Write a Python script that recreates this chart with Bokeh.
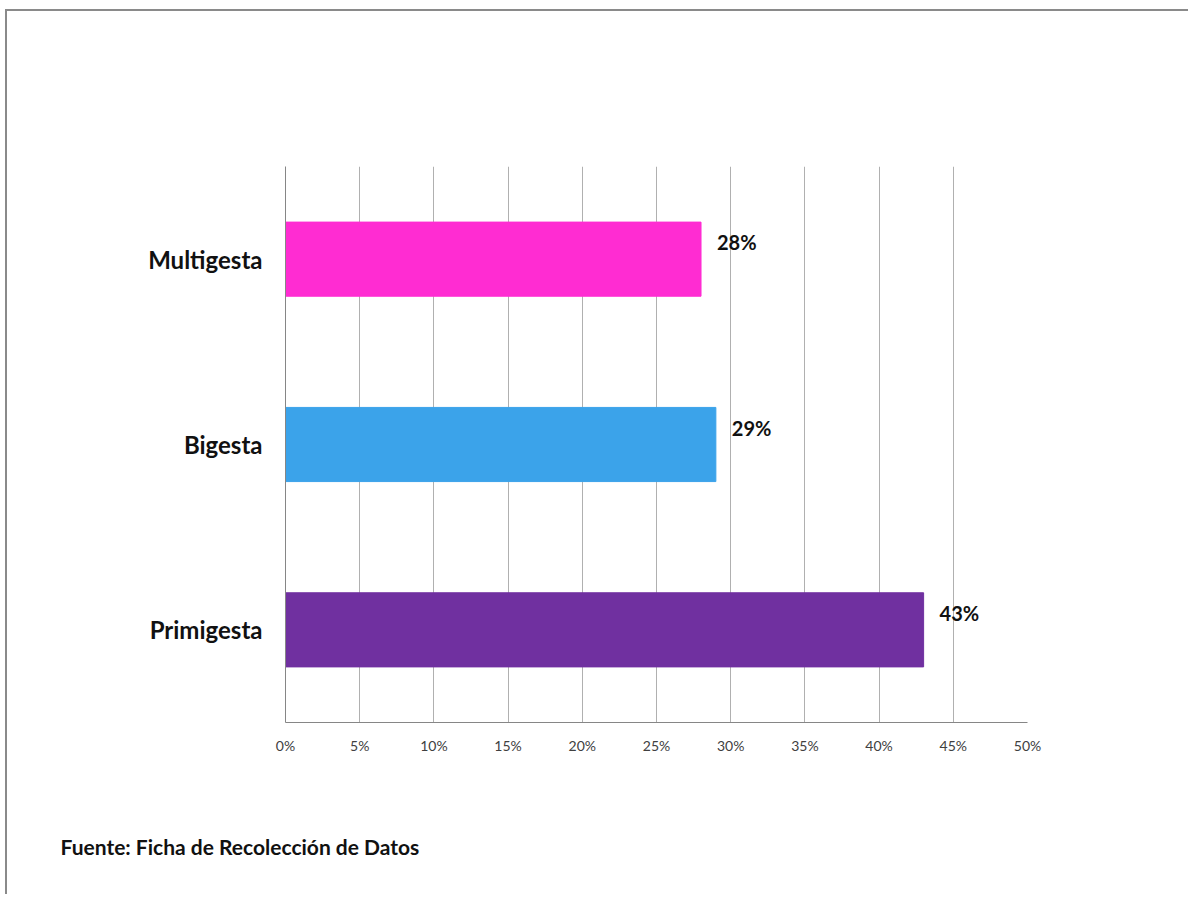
from bokeh.plotting import figure
from bokeh.models import ColumnDataSource, FactorRange, Range1d, PrintfTickFormatter, FixedTicker, Title
from bokeh.core.properties import value
from bokeh.embed import file_html
from bokeh.resources import INLINE

categories = ["Primigesta", "Bigesta", "Multigesta"]
values = [43, 29, 28]
value_labels = ["43%", "29%", "28%"]
colors = ["#7030A0", "#3BA3EA", "#FF2CD2"]
x_ticks = [0, 5, 10, 15, 20, 25, 30, 35, 40, 45, 50]
source_note = "Fuente: Ficha de Recolección de Datos"

src = ColumnDataSource(dict(cat=categories, val=values, lab=value_labels, col=colors))

p = figure(width=1183, height=885, output_backend="svg", toolbar_location=None,
           y_range=FactorRange(factors=categories), x_range=Range1d(0, 50),
           min_border_left=278, min_border_right=163, min_border_top=155, min_border_bottom=174)
p.styles = {"border-top": "2px solid #8a8a8a", "border-left": "2px solid #8a8a8a",
            "margin-top": "9px", "margin-left": "5px"}
p.outline_line_color = None
p.background_fill_color = "white"
p.border_fill_color = "white"

p.hbar(y="cat", right="val", left=0, height=0.4, color="col", source=src)
p.text(x="val", y="cat", text="lab", source=src, x_offset=16, y_offset=-17,
       text_baseline="middle", text_align="left", text_font=value("Lato"),
       text_font_style="bold", text_font_size="20px", text_color="#111111")

p.xaxis.ticker = FixedTicker(ticks=x_ticks)
p.xaxis.formatter = PrintfTickFormatter(format="%d%%")
p.xaxis.axis_line_color = "#868686"
p.xaxis.major_tick_line_color = None
p.xaxis.minor_tick_line_color = None
p.xaxis.major_label_text_font = "Lato"
p.xaxis.major_label_text_font_size = "14px"
p.xaxis.major_label_text_color = "#404040"
p.xaxis.major_label_standoff = 8

p.yaxis.axis_line_color = "#868686"
p.yaxis.major_tick_line_color = None
p.yaxis.major_label_text_font = "Lato"
p.yaxis.major_label_text_font_style = "bold"
p.yaxis.major_label_text_font_size = "24px"
p.yaxis.major_label_text_color = "#111111"
p.yaxis.major_label_standoff = 17

p.xgrid.ticker = FixedTicker(ticks=x_ticks)
p.xgrid.grid_line_color = "#b0b0b0"
p.ygrid.grid_line_color = None

spacer = Title(text=" ", text_font_size="2px", standoff=66)
p.add_layout(spacer, "below")
note = Title(text=source_note, align="left", offset=-225, standoff=10,
             text_font="Lato", text_font_style="bold", text_font_size="21px",
             text_color="#111111")
p.add_layout(note, "below")

open("out.html", "w").write(file_html(p, INLINE))
